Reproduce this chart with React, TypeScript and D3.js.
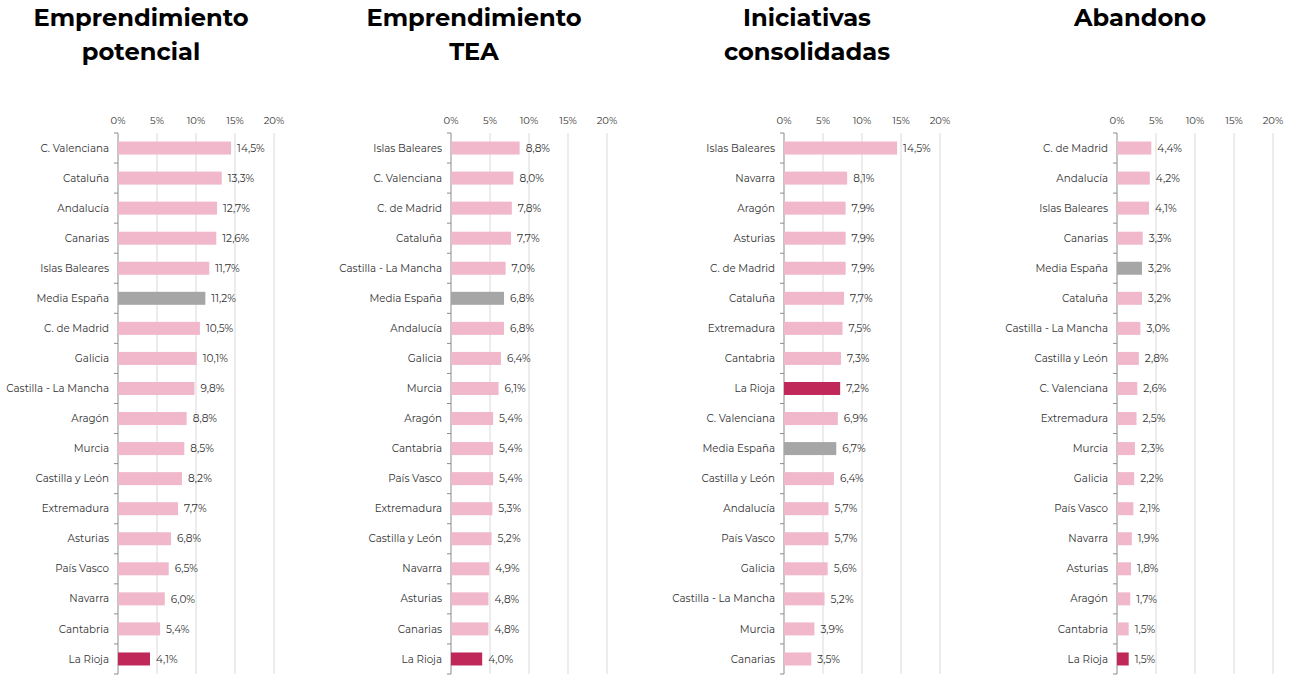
import React from "react";
import * as d3 from "d3";

// Regiones y valores (%) de cada panel, en el orden del gráfico
const potencialRegions = ["C. Valenciana", "Cataluña", "Andalucía", "Canarias", "Islas Baleares", "Media España", "C. de Madrid", "Galicia", "Castilla - La Mancha", "Aragón", "Murcia", "Castilla y León", "Extremadura", "Asturias", "País Vasco", "Navarra", "Cantabria", "La Rioja"];
const potencialValues = [14.5, 13.3, 12.7, 12.6, 11.7, 11.2, 10.5, 10.1, 9.8, 8.8, 8.5, 8.2, 7.7, 6.8, 6.5, 6.0, 5.4, 4.1];

const teaRegions = ["Islas Baleares", "C. Valenciana", "C. de Madrid", "Cataluña", "Castilla - La Mancha", "Media España", "Andalucía", "Galicia", "Murcia", "Aragón", "Cantabria", "País Vasco", "Extremadura", "Castilla y León", "Navarra", "Asturias", "Canarias", "La Rioja"];
const teaValues = [8.8, 8.0, 7.8, 7.7, 7.0, 6.8, 6.8, 6.4, 6.1, 5.4, 5.4, 5.4, 5.3, 5.2, 4.9, 4.8, 4.8, 4.0];

const consolidadasRegions = ["Islas Baleares", "Navarra", "Aragón", "Asturias", "C. de Madrid", "Cataluña", "Extremadura", "Cantabria", "La Rioja", "C. Valenciana", "Media España", "Castilla y León", "Andalucía", "País Vasco", "Galicia", "Castilla - La Mancha", "Murcia", "Canarias"];
const consolidadasValues = [14.5, 8.1, 7.9, 7.9, 7.9, 7.7, 7.5, 7.3, 7.2, 6.9, 6.7, 6.4, 5.7, 5.7, 5.6, 5.2, 3.9, 3.5];

const abandonoRegions = ["C. de Madrid", "Andalucía", "Islas Baleares", "Canarias", "Media España", "Cataluña", "Castilla - La Mancha", "Castilla y León", "C. Valenciana", "Extremadura", "Murcia", "Galicia", "País Vasco", "Navarra", "Asturias", "Aragón", "Cantabria", "La Rioja"];
const abandonoValues = [4.4, 4.2, 4.1, 3.3, 3.2, 3.2, 3.0, 2.8, 2.6, 2.5, 2.3, 2.2, 2.1, 1.9, 1.8, 1.7, 1.5, 1.5];

const panelTitles = [
  ["Emprendimiento", "potencial"],
  ["Emprendimiento", "TEA"],
  ["Iniciativas", "consolidadas"],
  ["Abandono"],
];
const xTicks = [0, 5, 10, 15, 20];

const panels = [
  { regions: potencialRegions, values: potencialValues },
  { regions: teaRegions, values: teaValues },
  { regions: consolidadasRegions, values: consolidadasValues },
  { regions: abandonoRegions, values: abandonoValues },
];

const FONT = "Montserrat, 'Open Sans', sans-serif";
const fmt = (v: number) => v.toFixed(1).replace(".", ",") + "%";

const barColor = (name: string) =>
  name === "La Rioja" ? "#c0285a" : name === "Media España" ? "#a6a6a6" : "#f0b8ca";

const Panel = ({ index, regions, values, title }) => {
  const left = 118 + index * 333;
  const top = 133;
  const bottom = 674;
  const x = d3.scaleLinear().domain([0, 20]).range([left, left + 156]);
  const y = d3.scaleBand().domain(regions).range([top, bottom]);
  const bh = 13;
  const titleCx = left + 23;
  return (
    <g>
      {title.map((t, i) => (
        <text key={i} x={titleCx} y={26 + i * 33.5} textAnchor="middle"
          fontSize={24.2} fontWeight={700} fill="#000" fontFamily={FONT}>{t}</text>
      ))}
      {xTicks.map((t) => (
        <g key={t}>
          {t > 0 && <line x1={x(t)} x2={x(t)} y1={top} y2={bottom} stroke="#d9d9d9" strokeWidth={1} />}
          <text x={x(t)} y={123.5} textAnchor="middle" fontSize={10} fill="#333" fontFamily={FONT}>{t}%</text>
        </g>
      ))}
      <line x1={left} x2={left} y1={top} y2={bottom} stroke="#8c8c8c" strokeWidth={1} />
      {regions.map((r, i) => (
        <line key={"t" + i} x1={left - 4} x2={left} y1={y(r)} y2={y(r)} stroke="#8c8c8c" strokeWidth={1} />
      ))}
      <line x1={left - 4} x2={left} y1={bottom} y2={bottom} stroke="#8c8c8c" strokeWidth={1} />
      {regions.map((r, i) => {
        const cy = y(r) + y.bandwidth() / 2;
        return (
          <g key={r}>
            <rect x={left} y={cy - bh / 2} width={x(values[i]) - left} height={bh} fill={barColor(r)} />
            <text x={left - 9} y={cy} dy="0.35em" textAnchor="end" fontSize={10.3} fill="#333" fontFamily={FONT}>{r}</text>
            <text x={x(values[i]) + 6} y={cy} dy="0.35em" fontSize={10.5} fill="#333" fontFamily={FONT}>{fmt(values[i])}</text>
          </g>
        );
      })}
    </g>
  );
};

export default function App() {
  return (
    <div style={{ position: "absolute", left: 0, top: 0 }}>
      <svg width={1296} height={675} style={{ display: "block", background: "#fff" }}>
        {panels.map((p, i) => (
          <Panel key={i} index={i} regions={p.regions} values={p.values} title={panelTitles[i]} />
        ))}
      </svg>
    </div>
  );
}
